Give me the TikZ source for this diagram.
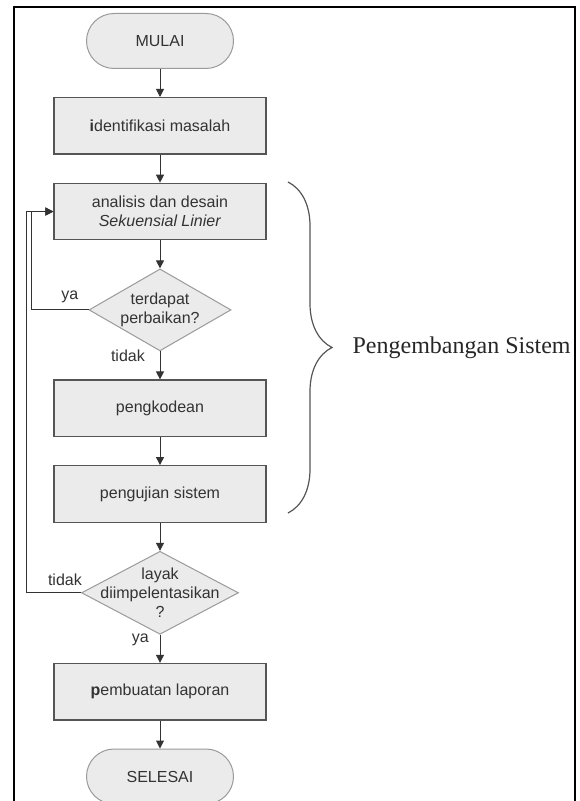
\documentclass[tikz,border=0pt]{standalone}
\usepackage{fontspec}
\setmainfont{Liberation Sans}
\newfontfamily\serifont{Liberation Serif}
\usetikzlibrary{positioning,arrows.meta,shapes.geometric,decorations.pathreplacing}
\definecolor{boxfill}{HTML}{EBEBEB}
\definecolor{boxline}{HTML}{555555}
\definecolor{softline}{HTML}{9A9A9A}
\definecolor{ink}{HTML}{333333}

\begin{document}
\begin{tikzpicture}[
        x=0.5pt, y=-0.5pt,
        node distance=14pt,
        >={Triangle[length=4pt,width=4pt]},
        font=\fontsize{8}{9.5}\selectfont,
        text=ink,
        proses/.style={
            draw=boxline,
            fill=boxfill,
            line width=0.6pt,
            minimum width=106pt,
            minimum height=28.25pt,
            align=center
        },
        terminal/.style={
            draw=softline,
            fill=boxfill,
            line width=0.5pt,
            rounded corners=13.75pt,
            minimum width=73.5pt,
            minimum height=27.5pt
        },
        keputusan/.style={
            diamond,
            draw=softline,
            fill=boxfill,
            line width=0.5pt,
            inner sep=0pt
        },
        alur/.style={->, draw=ink, line width=0.5pt}
    ]
        \useasboundingbox (0,0) rectangle (579,801);
        \draw[line width=1.2pt] (14,801) -- (14,7) -- (575,7) -- (575,801);

        \node[terminal] (mulai) at (160,41) {MULAI};
        \node[proses, below=of mulai] (identifikasi) {\textbf{i}dentifikasi masalah};
        \node[proses, below=of identifikasi] (analisis) {analisis dan desain\\\textit{Sekuensial Linier}};
        \node[keputusan, below=of analisis, minimum width=71pt, minimum height=41pt,
            label={[align=center]center:{terdapat\\perbaikan?}}] (cek) {};
        \node[proses, below=of cek] (kode) {pengkodean};
        \node[proses, below=of kode] (uji) {pengujian sistem};
        \node[keputusan, below=of uji, minimum width=78.5pt, minimum height=41.5pt,
            label={[align=center]center:{layak\\diimpelentasikan\\?}}] (layak) {};
        \node[proses, below=of layak] (laporan) {\textbf{p}embuatan laporan};
        \node[terminal, below=of laporan] (selesai) {SELESAI};

        \draw[alur] (mulai) -- (identifikasi);
        \draw[alur] (identifikasi) -- (analisis);
        \draw[alur] (analisis) -- (cek);
        \draw[alur] (cek) -- node[pos=0.14, left=4pt]{tidak} (kode);
        \draw[alur] (kode) -- (uji);
        \draw[alur] (uji) -- (layak);
        \draw[alur] (layak) -- node[pos=0.17, left=2pt]{ya} (laporan);
        \draw[alur] (laporan) -- (selesai);

        % jalur kembali
        \draw[alur] (cek.west) node[above left, xshift=-1.5pt]{ya} -- ++(-57,0) |- (analisis.west);
        \draw[alur] (layak.west) node[above left, xshift=4pt]{tidak} -- ++(-55,0) |- (analisis.west);

        \draw[boxline, line width=0.6pt, decorate, decoration={brace, amplitude=22pt}]
            (288,182) -- (288,513)
            node[midway, anchor=west, xshift=32pt, inner sep=0pt, text=black!85,
                font=\serifont\fontsize{12}{14}\selectfont] (pengembangan) {Pengembangan Sistem};
    \end{tikzpicture}
\end{document}
